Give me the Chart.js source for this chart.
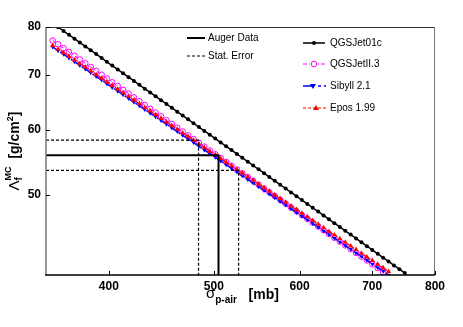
<!DOCTYPE html>
<html>
<head>
<meta charset="utf-8">
<script src="https://cdn.jsdelivr.net/npm/chart.js@4/dist/chart.umd.min.js"></script>
<style>
html,body{margin:0;padding:0;background:#fff;}
#caja{width:463px;height:327px;}
</style>
</head>
<body>
<div id="caja"><canvas id="grafico" width="463" height="327"></canvas></div>
<script>
// sigma p-air (mb) donde van los marcadores de las curvas
const sigmaPAir = [355.0, 359.1, 363.3, 367.5, 371.8, 376.1, 380.5, 384.9, 389.4, 393.9,
  398.3, 402.9, 407.6, 412.3, 417.1, 421.9, 426.8, 431.7, 436.7, 441.8,
  446.9, 452.1, 457.3, 462.6, 468.0, 473.4, 478.9, 484.4, 490.0, 495.7,
  501.5, 507.3, 513.2, 519.1, 525.1, 531.2, 537.4, 543.6, 549.9, 556.3,
  562.6, 569.1, 575.7, 582.4, 589.1, 596.0, 602.9, 609.9, 616.9, 624.1,
  631.3, 638.6, 646.0, 653.5, 661.1, 668.7, 676.4, 684.3, 692.2, 700.2,
  708.3, 716.5, 724.8, 733.2, 741.7, 750.3];

// Lambda_f^MC (g/cm2) de cada modelo
const qgsjet01c = [null, 79.96, 79.11, 78.26, 77.43, 76.60, 75.78, 74.97, 74.17, 73.38,
  72.59, 71.82, 71.05, 70.29, 69.54, 68.80, 68.06, 67.34, 66.62, 65.91,
  65.20, 64.51, 63.82, 63.14, 62.46, 61.80, 61.13, 60.48, 59.84, 59.20,
  58.56, 57.94, 57.32, 56.71, 56.10, 55.50, 54.91, 54.32, 53.75, 53.17,
  52.60, 52.05, 51.49, 50.94, 50.39, 49.85, 49.32, 48.79, 48.27, 47.76,
  47.25, 46.74, 46.24, 45.75, 45.26, 44.78, 44.30, 43.83, 43.36, 42.90,
  42.44, 41.98, 41.54, 41.09, 40.65, 40.22];
const qgsjetII3 = [77.03, 76.22, 75.41, 74.62, 73.83, 73.05, 72.28, 71.52, 70.77, 70.02,
  69.28, 68.55, 67.83, 67.11, 66.41, 65.71, 65.01, 64.33, 63.65, 62.98,
  62.32, 61.66, 61.01, 60.37, 59.73, 59.10, 58.48, 57.86, 57.25, 56.65,
  56.05, 55.46, 54.87, 54.29, 53.72, 53.15, 52.59, 52.04, 51.49, 50.95,
  50.41, 49.88, 49.35, 48.83, 48.32, 47.81, 47.30, 46.81, 46.31, 45.82,
  45.34, 44.86, 44.39, 43.92, 43.46, 43.00, 42.55, 42.10, 41.66, 41.22,
  40.78, 40.35];
const sibyll21 = [75.65, 74.88, 74.11, 73.36, 72.61, 71.86, 71.13, 70.40, 69.68, 68.97,
  68.26, 67.57, 66.87, 66.19, 65.51, 64.84, 64.18, 63.52, 62.87, 62.23,
  61.59, 60.96, 60.34, 59.72, 59.11, 58.51, 57.91, 57.32, 56.73, 56.15,
  55.58, 55.01, 54.45, 53.89, 53.34, 52.79, 52.25, 51.72, 51.19, 50.67,
  50.15, 49.64, 49.13, 48.63, 48.13, 47.64, 47.15, 46.67, 46.19, 45.72,
  45.25, 44.79, 44.33, 43.88, 43.43, 42.98, 42.55, 42.11, 41.68, 41.25,
  40.83, 40.41, 40.00];
const epos199 = [75.97, 75.20, 74.44, 73.68, 72.94, 72.20, 71.47, 70.74, 70.02, 69.31,
  68.61, 67.92, 67.23, 66.55, 65.87, 65.20, 64.54, 63.89, 63.24, 62.60,
  61.97, 61.34, 60.72, 60.10, 59.49, 58.89, 58.29, 57.70, 57.12, 56.54,
  55.96, 55.40, 54.83, 54.28, 53.73, 53.18, 52.65, 52.11, 51.58, 51.06,
  50.54, 50.03, 49.52, 49.02, 48.52, 48.03, 47.55, 47.06, 46.59, 46.11,
  45.65, 45.18, 44.73, 44.27, 43.82, 43.38, 42.94, 42.50, 42.07, 41.65,
  41.23, 40.81, 40.39];

// medida de Auger y su error estadistico
const augerSigma = 505;
const augerLambda = 55.9;
const errSigma = [484, 527];
const errLambda = [53.6, 58.3];

const ticksX = [400, 500, 600, 700, 800];
const ticksY = [50, 60, 70, 80];
const nombres = ['QGSJet01c', 'QGSJetII.3', 'Sibyll 2.1', 'Epos 1.99'];
const nombresAuger = ['Auger Data', 'Stat. Error'];

const sMin = 350, sMax = 800, lMin = 40, lMax = 80;
const fuente = '"Liberation Sans", Arial, Helvetica, sans-serif';

function puntos(valores){
    let arr = []
    for (let i = 0; i < sigmaPAir.length; i++) {
        if (valores[i] != null) arr.push({x: sigmaPAir[i], y: valores[i]})
    }
    return arr
}

// dibuja trozos de texto seguidos (con sub y superindices), centrado en x=0
function textoCompuesto(ctx, trozos, centrado){
    let ancho = 0
    trozos.forEach(t => {
        ctx.font = t.font
        t.w = ctx.measureText(t.t).width
        if (!t.stack) ancho += t.w
    })
    // los trozos con stack comparten posicion con el anterior
    let x = centrado ? -ancho / 2 : 0
    let prevX = x, prevW = 0
    trozos.forEach(t => {
        ctx.font = t.font
        if (t.stack) {
            ctx.fillText(t.t, prevX, t.dy || 0)
            if (t.w > prevW) { x = prevX + t.w }
        } else {
            ctx.fillText(t.t, x, t.dy || 0)
            prevX = x; prevW = t.w
            x += t.w
        }
    })
}

function marcador(ctx, tipo, x, y, color){
    ctx.save()
    ctx.fillStyle = color
    ctx.strokeStyle = color
    ctx.setLineDash([])
    ctx.lineWidth = 1
    ctx.beginPath()
    if (tipo == 'circulo') {
        ctx.arc(x, y, 2, 0, Math.PI * 2); ctx.fill()
    } else if (tipo == 'abierto') {
        ctx.arc(x, y, 2.8, 0, Math.PI * 2); ctx.fillStyle = '#fff'; ctx.fill(); ctx.stroke()
    } else if (tipo == 'abajo') {
        ctx.moveTo(x - 3, y - 2); ctx.lineTo(x + 3, y - 2); ctx.lineTo(x, y + 3); ctx.closePath(); ctx.fill()
    } else {
        ctx.moveTo(x - 3, y + 2); ctx.lineTo(x + 3, y + 2); ctx.lineTo(x, y - 3); ctx.closePath(); ctx.fill()
    }
    ctx.restore()
}

function linea(ctx, x1, x2, y, color, ancho, dash){
    ctx.save()
    ctx.strokeStyle = color
    ctx.lineWidth = ancho
    ctx.setLineDash(dash)
    ctx.beginPath(); ctx.moveTo(x1, y); ctx.lineTo(x2, y); ctx.stroke()
    ctx.restore()
}

const extras = {
    id: 'extras',
    afterDraw(chart){
        const ctx = chart.ctx
        const a = chart.chartArea
        const sx = chart.scales.x, sy = chart.scales.y
        ctx.save()
        // marco
        linea(ctx, a.left, a.right, a.top + 0.5, '#333', 1, [])
        ctx.strokeStyle = '#777'; ctx.lineWidth = 1
        ctx.beginPath(); ctx.moveTo(a.right - 0.5, a.top); ctx.lineTo(a.right - 0.5, a.bottom); ctx.stroke()
        ctx.lineWidth = 1.5
        ctx.beginPath(); ctx.moveTo(a.left, a.top); ctx.lineTo(a.left, a.bottom); ctx.stroke()
        linea(ctx, a.left - 1, a.right, a.bottom, '#000', 1.5, [])
        // ticks hacia dentro
        ctx.strokeStyle = '#000'; ctx.lineWidth = 1
        ticksX.forEach(v => {
            const px = Math.round(sx.getPixelForValue(v)) + 0.5
            ctx.beginPath(); ctx.moveTo(px, a.bottom); ctx.lineTo(px, a.bottom - 4); ctx.stroke()
        })
        ticksY.forEach(v => {
            const py = Math.round(sy.getPixelForValue(v)) + 0.5
            ctx.beginPath(); ctx.moveTo(a.left, py); ctx.lineTo(a.left + 4, py); ctx.stroke()
        })
        // titulo eje x
        ctx.fillStyle = '#000'
        ctx.textBaseline = 'alphabetic'
        ctx.textAlign = 'left'
        ctx.save()
        ctx.translate(206, 298)
        textoCompuesto(ctx, [
            {t: 'σ', font: '15px ' + fuente},
            {t: 'p-air', font: 'bold 10px ' + fuente, dy: 5},
            {t: '   [mb]', font: 'bold 14px ' + fuente, dy: 1}
        ], false)
        ctx.restore()
        // titulo eje y
        ctx.save()
        ctx.translate(19, 151)
        ctx.rotate(-Math.PI / 2)
        textoCompuesto(ctx, [
            {t: 'Λ', font: '15px ' + fuente},
            {t: 'MC', font: 'bold 9px ' + fuente, dy: -8},
            {t: 'f', font: 'bold 10px ' + fuente, dy: 3, stack: true},
            {t: '  [g/cm', font: 'bold 14px ' + fuente},
            {t: '2', font: 'bold 9px ' + fuente, dy: -6},
            {t: ']', font: 'bold 14px ' + fuente}
        ], true)
        ctx.restore()
        // leyenda
        ctx.font = '10px ' + fuente
        ctx.textBaseline = 'middle'
        linea(ctx, 187, 205, 38, '#000', 2, [])
        linea(ctx, 187, 205, 56, '#000', 1.2, [3, 2])
        ctx.fillText(nombresAuger[0], 208, 38)
        ctx.fillText(nombresAuger[1], 208, 56)
        const filas = [43, 64, 86, 108]
        linea(ctx, 303, 325, filas[0], '#000', 1.5, [])
        marcador(ctx, 'circulo', 314, filas[0], '#000')
        linea(ctx, 303, 326, filas[1], '#ff00ff', 1, [4, 2, 1, 2])
        marcador(ctx, 'abierto', 314, filas[1], '#ff00ff')
        linea(ctx, 303, 326, filas[2], '#0000ff', 1.5, [11, 4, 3, 3])
        marcador(ctx, 'abajo', 313, filas[2], '#0000ff')
        linea(ctx, 303, 326, filas[3], '#ff0000', 1.2, [3, 2])
        marcador(ctx, 'arriba', 316, filas[3], '#ff0000')
        ctx.fillStyle = '#000'
        nombres.forEach((n, i) => ctx.fillText(n, 330, filas[i]))
        ctx.restore()
    }
}

function grafico(){
    const ctx = document.getElementById('grafico')

    const augerDatos = [{x: sMin, y: augerLambda}, {x: augerSigma, y: augerLambda}, {x: augerSigma, y: lMin}]
    const errArriba = [{x: sMin, y: errLambda[1]}, {x: errSigma[0], y: errLambda[1]}, {x: errSigma[0], y: lMin}]
    const errAbajo = [{x: sMin, y: errLambda[0]}, {x: errSigma[1], y: errLambda[0]}, {x: errSigma[1], y: lMin}]

    const tickFont = {family: fuente, size: 12, weight: 'bold'}

    new Chart(ctx, {
        type: 'scatter',
        data: {
            datasets: [
                {label: nombresAuger[0], data: augerDatos, showLine: true, borderColor: '#000', borderWidth: 2, pointRadius: 0, order: 0},
                {label: nombresAuger[1], data: errArriba, showLine: true, borderColor: '#000', borderWidth: 1.2, borderDash: [3, 2], pointRadius: 0, order: 0},
                {label: nombresAuger[1], data: errAbajo, showLine: true, borderColor: '#000', borderWidth: 1.2, borderDash: [3, 2], pointRadius: 0, order: 0},
                {label: nombres[0], data: puntos(qgsjet01c), showLine: true, borderColor: '#000', borderWidth: 1.5,
                    pointRadius: 2, pointBackgroundColor: '#000', pointBorderWidth: 0, order: 4},
                {label: nombres[1], data: puntos(qgsjetII3), showLine: true, borderColor: '#ff00ff', borderWidth: 1,
                    borderDash: [4, 2, 1, 2], pointRadius: 2.8, pointBorderColor: '#ff00ff', pointBorderWidth: 1,
                    pointBackgroundColor: 'rgba(255,255,255,0)', order: 3},
                {label: nombres[2], data: puntos(sibyll21), showLine: true, borderColor: '#0000ff', borderWidth: 1.5,
                    borderDash: [7, 2, 2, 2], pointStyle: 'triangle', pointRotation: 180, pointRadius: 2.5,
                    pointBackgroundColor: '#0000ff', pointBorderWidth: 0, order: 2},
                {label: nombres[3], data: puntos(epos199), showLine: true, borderColor: '#ff0000', borderWidth: 1.2,
                    borderDash: [3, 2], pointStyle: 'triangle', pointRadius: 3,
                    pointBackgroundColor: '#ff0000', pointBorderWidth: 0, order: 1}
            ]
        },
        options: {
            responsive: false,
            animation: false,
            devicePixelRatio: 1,
            layout: {padding: {top: 27, right: 28, left: 0, bottom: 0}},
            plugins: {legend: {display: false}, tooltip: {enabled: false}},
            scales: {
                x: {
                    type: 'logarithmic', min: sMin, max: sMax, bounds: 'data',
                    grid: {display: false, drawTicks: false}, border: {display: false},
                    ticks: {callback: v => String(v), font: tickFont, color: '#000', padding: 4, maxRotation: 0, autoSkip: false},
                    afterBuildTicks: eje => { eje.ticks = ticksX.map(v => ({value: v})) },
                    afterFit: eje => { eje.height = 52 }
                },
                y: {
                    type: 'logarithmic', min: lMin, max: lMax, bounds: 'data',
                    grid: {display: false, drawTicks: false}, border: {display: false},
                    ticks: {callback: v => String(v), font: tickFont, color: '#000', padding: 5, autoSkip: false},
                    afterBuildTicks: eje => { eje.ticks = ticksY.map(v => ({value: v})) },
                    afterFit: eje => { eje.width = 46 }
                }
            }
        },
        plugins: [extras]
    })
}

grafico()
</script>
</body>
</html>
